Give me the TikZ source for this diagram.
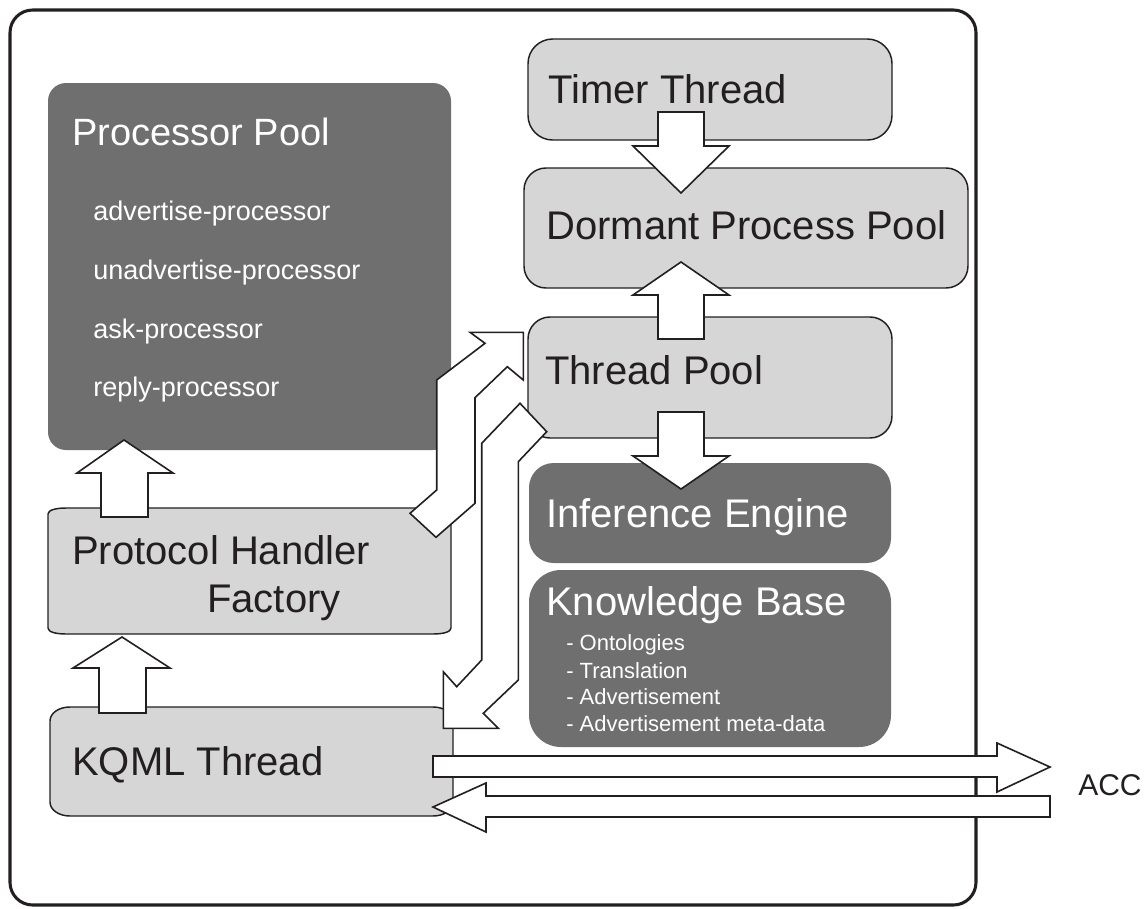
\documentclass[tikz,border=0pt]{standalone}
\usepackage{fontspec}
\setmainfont{Liberation Sans}
\usetikzlibrary{fit}
\definecolor{dark}{HTML}{6F6F6F}
\definecolor{light}{HTML}{D6D6D6}
\definecolor{ink}{HTML}{231F20}
\begin{document}
\begin{tikzpicture}[x=0.75pt,y=-0.75pt,line join=miter]
\tikzset{
  frame/.style={draw=ink,line width=2.3pt,rounded corners=17pt},
  lightbox/.style={fill=light,draw=ink,line width=1.1pt},
  darkbox/.style={fill=dark},
  fitbox/.style={inner sep=0pt,outer sep=0pt},
  barrow/.style={fill=white,draw=ink,line width=1.2pt},
  bigtxt/.style={inner sep=0pt,anchor=base west,font=\fontsize{30}{36}\selectfont},
  proctxt/.style={inner sep=0pt,anchor=base west,font=\fontsize{28.5}{34}\selectfont,text=white},
  itemtxt/.style={inner sep=0pt,anchor=base west,font=\fontsize{20.25}{24}\selectfont,text=white},
  kbtxt/.style={inner sep=0pt,anchor=base west,font=\fontsize{16.5}{20}\selectfont,text=white},
  acctxt/.style={inner sep=0pt,anchor=base west,font=\fontsize{22.5}{27}\selectfont,text=ink},
}
\useasboundingbox (0,0) rectangle (1147,908);
% outer frame
\node[fit={(10,10) (976,905)},fitbox,frame] (outer) {};
% boxes
\node[fit={(48,83) (451,450)},fitbox,darkbox,rounded corners=13.5pt] (procpool) {};
\node[fit={(528,39) (892,140)},fitbox,lightbox,rounded corners=18.5pt] (timer) {};
\node[fit={(524,168) (968,288)},fitbox,lightbox,rounded corners=16.5pt] (dormant) {};
\node[fit={(528,317) (892,438)},fitbox,lightbox,rounded corners=16.5pt] (threadpool) {};
\node[fit={(529,463) (891,563)},fitbox,darkbox,rounded corners=18.5pt] (inference) {};
\node[fit={(529,570) (891,747)},fitbox,darkbox,rounded corners=24pt] (kb) {};
\node[fit={(48,508) (451,634)},fitbox] (proto) {};
\draw[lightbox] (66,508) -- (433,508) .. controls (443,508) and (451,510) .. (451,514)
  -- (451,628) .. controls (451,632) and (443,634) .. (433,634)
  -- (66,634) .. controls (56,634) and (48,632) .. (48,628)
  -- (48,514) .. controls (48,510) and (56,508) .. (66,508) -- cycle;
\node[fit={(50,707) (453,816)},fitbox] (kqml) {};
\draw[lightbox] (70,707) -- (433,707) .. controls (444,707) and (453,713) .. (453,721)
  -- (453,802) .. controls (453,810) and (444,816) .. (433,816)
  -- (70,816) .. controls (59,816) and (50,810) .. (50,802)
  -- (50,721) .. controls (50,713) and (59,707) .. (70,707) -- cycle;
% block arrows
\draw[barrow] (658,112) -- (704,112) -- (704,146) -- (729,146) -- (681,193) -- (633,146) -- (658,146) -- cycle;
\draw[barrow] (658,339) -- (704,339) -- (704,295) -- (729,295) -- (681,262) -- (633,295) -- (658,295) -- cycle;
\draw[barrow] (658,412) -- (704,412) -- (704,456) -- (729,456) -- (681,489) -- (633,456) -- (658,456) -- cycle;
\draw[barrow] (101,517) -- (148,517) -- (148,473) -- (173,473) -- (124,440) -- (77,473) -- (101,473) -- cycle;
\draw[barrow] (99,713) -- (146,713) -- (146,668) -- (170,668) -- (122,637) -- (73,668) -- (99,668) -- cycle;
\draw[barrow] (433,756) -- (997,756) -- (997,743) -- (1050,767) -- (997,792) -- (997,777) -- (433,777) -- cycle;
\draw[barrow] (1050,796) -- (486,796) -- (486,783) -- (433,807) -- (486,832) -- (486,817) -- (1050,817) -- cycle;
\draw[barrow] (523.3,332.3) -- (470,332.3) -- (485,343.3) -- (436.7,380) -- (436.7,490) -- (410,513.3)
  -- (436,537.3) -- (475,503.3) -- (475,397.7) -- (507.3,366.7) -- (523.3,380) -- cycle;
\draw[barrow] (520,403.3) -- (546.7,431.7) -- (518.3,461.7) -- (518.3,680) -- (483.3,713.3) -- (498.3,728.3)
  -- (443.3,728.3) -- (443.3,671.7) -- (456.7,686.7) -- (481.7,660) -- (481.7,443.3) -- cycle;
% texts
\node[proctxt] (tproc) at (72,145) {Processor Pool};
\node[itemtxt] (tadv) at (93,220) {advertise-processor};
\node[itemtxt] (tunadv) at (93,279) {unadvertise-processor};
\node[itemtxt] (task) at (93,338) {ask-processor};
\node[itemtxt] (treply) at (93,396) {reply-processor};
\node[bigtxt,text=ink] (ttimer) at (548,103) {Timer Thread};
\node[bigtxt,text=ink] (tdormant) at (546,239) {Dormant Process Pool};
\node[bigtxt,text=ink] (tthread) at (545,384) {Thread Pool};
\node[bigtxt,text=white] (tinf) at (546,527) {Inference Engine};
\node[bigtxt,text=white] (tkb) at (546,615) {Knowledge Base};
\node[kbtxt] (tont) at (566,650) {- Ontologies};
\node[kbtxt] (ttrans) at (566,678) {- Translation};
\node[kbtxt] (tadvm) at (566,704) {- Advertisement};
\node[kbtxt] (tmeta) at (566,731) {- Advertisement meta-data};
\node[bigtxt,text=ink] (tproto) at (72,564) {Protocol Handler};
\node[bigtxt,text=ink] (tfact) at (207,612) {Factory};
\node[bigtxt,text=ink] (tkqml) at (72,775) {KQML Thread};
\node[acctxt] (tacc) at (1078,795) {ACC};
\end{tikzpicture}
\end{document}
